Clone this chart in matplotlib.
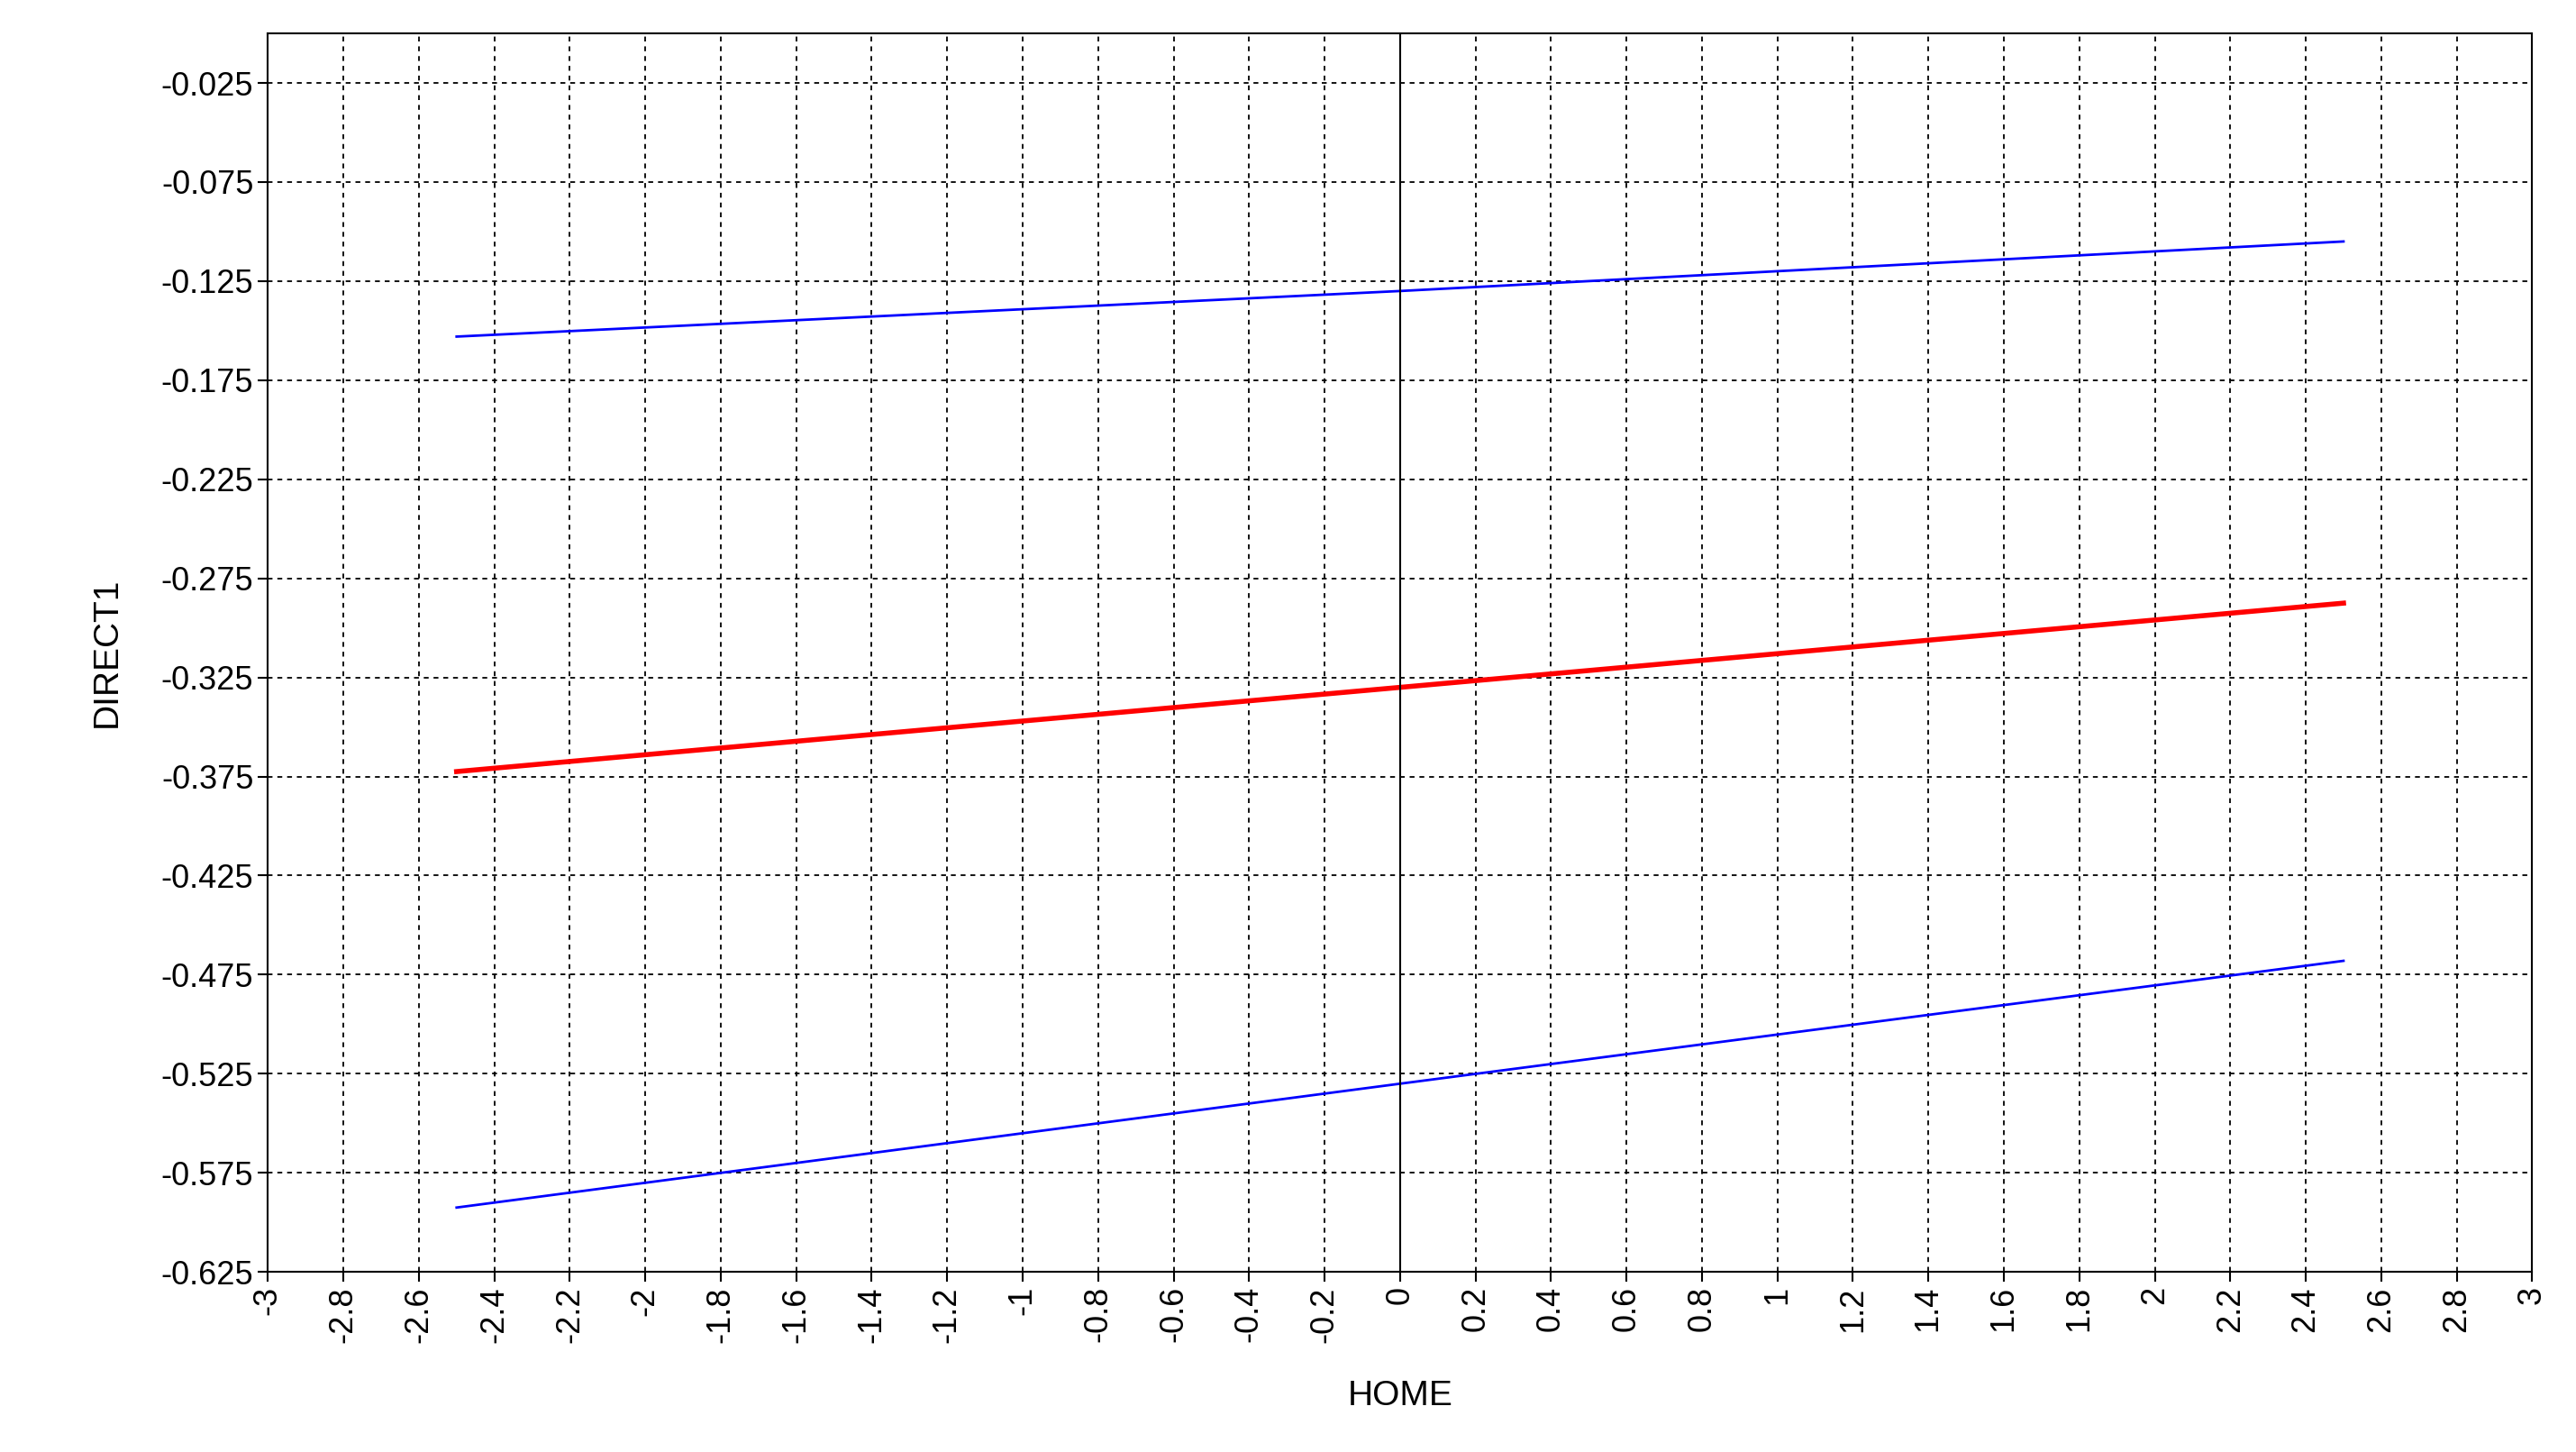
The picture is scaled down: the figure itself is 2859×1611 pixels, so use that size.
import numpy as np
import matplotlib
matplotlib.use("Agg")
import matplotlib.pyplot as plt
from matplotlib.ticker import FuncFormatter

plt.rcParams['font.family'] = ['Liberation Sans', 'DejaVu Sans']

# values
home = [-2.5, 0.0, 2.5]
upper = [-0.153, -0.130, -0.105]
mean = [-0.3725, -0.330, -0.2875]
lower = [-0.5925, -0.530, -0.468]

x_ticks = np.round(np.arange(-3, 3.01, 0.2), 1)
y_ticks = np.round(np.arange(-0.625, -0.0249, 0.05), 3)


def fmt(v, pos):
    s = ("%.3f" % v).rstrip("0").rstrip(".")
    if s == "-0":
        s = "0"
    return s


def main():
    fig = plt.figure(figsize=(28.59, 16.11), dpi=100)
    ax = fig.add_axes([0.104, 0.124, 0.879, 0.853])

    ax.plot(home, upper, color="blue", lw=2)
    ax.plot(home, mean, color="red", lw=4)
    ax.plot(home, lower, color="blue", lw=2)
    ax.axvline(0, color="black", lw=1.5)

    ax.set_xlim(-3, 3)
    ax.set_ylim(-0.625, 0.0)
    ax.set_xticks(x_ticks)
    ax.set_yticks(y_ticks)
    ax.xaxis.set_major_formatter(FuncFormatter(fmt))
    ax.yaxis.set_major_formatter(FuncFormatter(fmt))
    ax.tick_params(axis="x", labelrotation=90, labelsize=26, length=8, width=1.5)
    ax.tick_params(axis="y", labelsize=26, length=8, width=1.5)
    ax.grid(True, color="black", ls=(0, (3, 3)), lw=1.3)
    for sp in ax.spines.values():
        sp.set_linewidth(1.5)

    ax.set_xlabel("HOME", fontsize=28, labelpad=30)
    ax.set_ylabel("DIRECT1", fontsize=28, labelpad=30)

    fig.savefig("out.png", dpi=100)


if __name__ == "__main__":
    main()
